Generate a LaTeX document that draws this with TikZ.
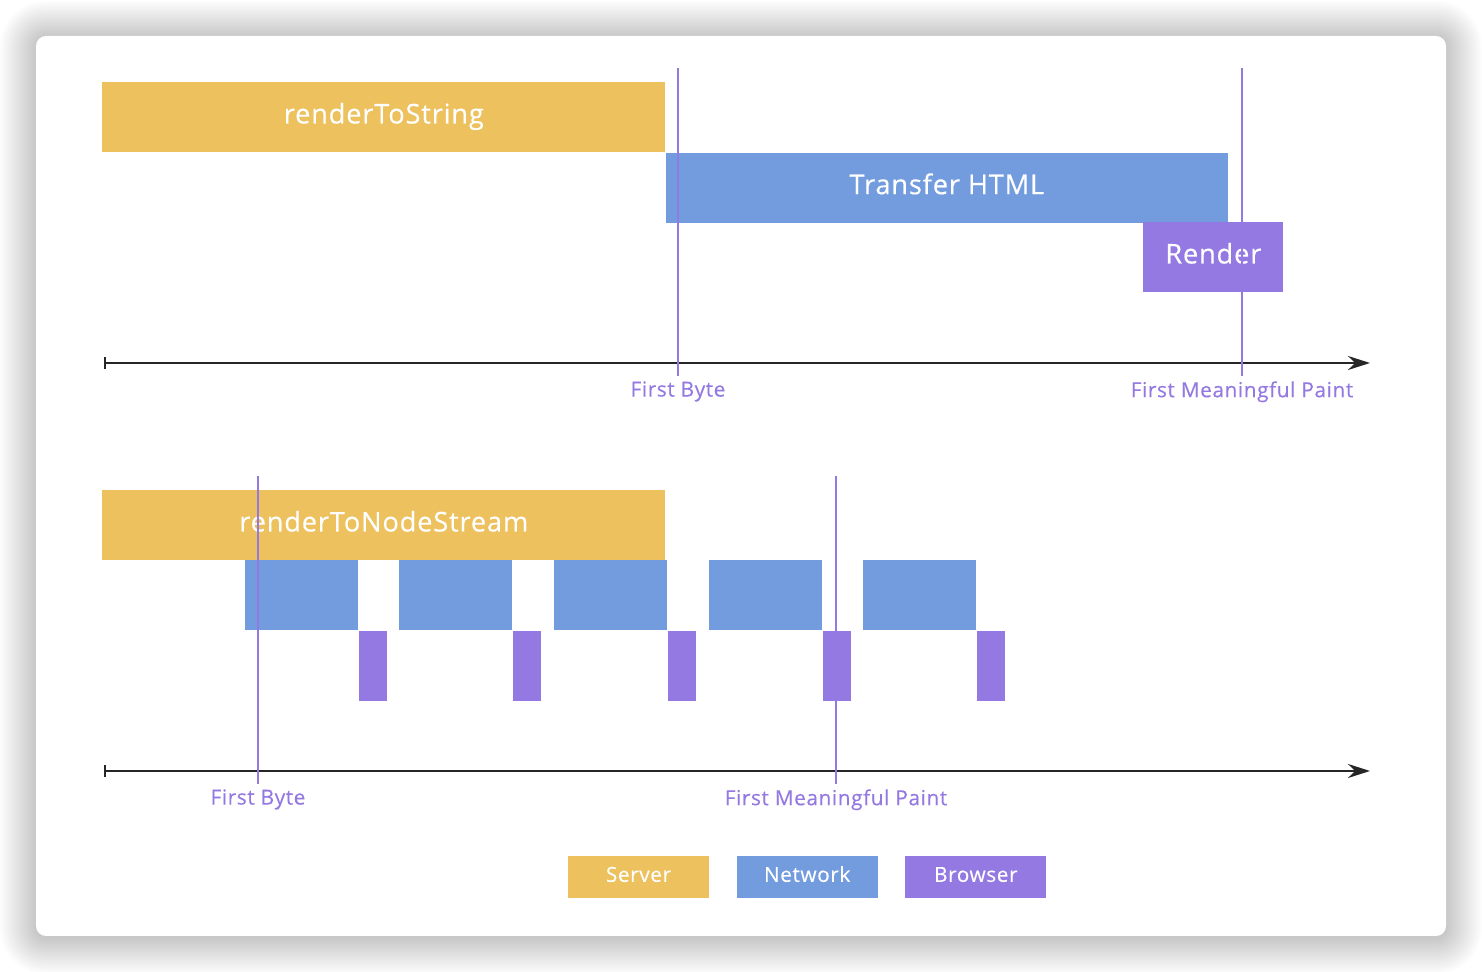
\documentclass[tikz,border=0pt]{standalone}
\usepackage{fontspec}
\setmainfont{Open Sans}[LetterSpace=3, FakeBold=0.3]
\usetikzlibrary{arrows.meta,positioning}
\definecolor{srvcol}{HTML}{ECC15E}
\definecolor{netcol}{HTML}{739CDF}
\definecolor{brwcol}{HTML}{9479E2}

\begin{document}
\begin{tikzpicture}[x=0.02cm, y=-0.02cm]
  \tikzstyle{bar} = [rectangle, inner sep=0pt, minimum height=1.4cm, anchor=north west,
                                    text height=0.85em, text depth=0.15em,
                                    text=white, font=\fontsize{15.5}{18}\selectfont]
  \tikzstyle{server} = [bar, fill=srvcol]
  \tikzstyle{network} = [bar, fill=netcol]
  \tikzstyle{browser} = [bar, fill=brwcol]
  \tikzstyle{marker} = [draw=brwcol, line width=0.9pt]
  \tikzstyle{mlabel} = [inner sep=0pt, text=brwcol, font=\fontsize{11.8}{14}\selectfont]
  \tikzstyle{axis} = [draw=black!85, line width=1.2pt, {Bar[width=0.24cm]}-{Stealth[length=0.44cm, width=0.28cm]}]
  \tikzstyle{legend} = [rectangle, inner sep=0pt, minimum width=2.82cm, minimum height=0.84cm,
                                    text height=0.75em, text depth=0.2em,
                                    text=white, font=\fontsize{11.8}{14}\selectfont]
\useasboundingbox (0,0) rectangle (1482,972);
\fill[white] (0,0) rectangle (1482,972);
\foreach \s in {1,...,18}
  \fill[black, opacity=0.012, rounded corners=0.2cm+\s*0.04cm] ({36-2*\s},{37-2*\s}) rectangle ({1446+2*\s},{938+2*\s});
\fill[white, rounded corners=0.2cm] (36,36) rectangle (1446,936);
% renderToString
\node[server, minimum width=11.26cm] (rts) at (102,82) {renderToString};
\node[network, minimum width=11.24cm] (transfer) at (rts.south east) {Transfer HTML};
\node[browser, minimum width=2.8cm] (render) at (1143,222) {Render};
\coordinate (ax1l) at (104,363);
\coordinate (ax1r) at (1370,363);
\draw[axis] (ax1l) -- (ax1r);
\coordinate (fb1top) at (678,68);
\coordinate (fb1bot) at (678,376);
\coordinate (fmp1top) at (1242,68);
\coordinate (fmp1bot) at (1242,376);
\draw[marker] (fb1top) -- (fb1bot);
\draw[marker] (fmp1top) -- (fmp1bot);
\node[mlabel, below=0.1cm of fb1bot] (fb1) {First Byte};
\node[mlabel, below=0.1cm of fmp1bot] (fmp1) {First Meaningful Paint};
% renderToNodeStream
\node[server, minimum width=11.26cm] (rtns) at (102,490) {renderToNodeStream};
\foreach \i/\x in {1/245,2/399,3/554,4/709,5/863}{
  \node[network, minimum width=2.25cm] (net\i) at (\x,560) {};
  \node[browser, minimum width=0.57cm] (brw\i) at (net\i.south east) {};
}
\coordinate (ax2l) at (104,771);
\coordinate (ax2r) at (1370,771);
\draw[axis] (ax2l) -- (ax2r);
\coordinate (fb2top) at (258,476);
\coordinate (fb2bot) at (258,784);
\coordinate (fmp2top) at (836,476);
\coordinate (fmp2bot) at (836,784);
\draw[marker] (fb2top) -- (fb2bot);
\draw[marker] (fmp2top) -- (fmp2bot);
\node[mlabel, below=0.1cm of fb2bot] (fb2) {First Byte};
\node[mlabel, below=0.1cm of fmp2bot] (fmp2) {First Meaningful Paint};
% legend
\node[legend, fill=srvcol] (srv) at (638.5,877) {Server};
\node[legend, fill=netcol, right=0.54cm of srv] (net) {Network};
\node[legend, fill=brwcol, right=0.54cm of net] (brw) {Browser};
\end{tikzpicture}
\end{document}
